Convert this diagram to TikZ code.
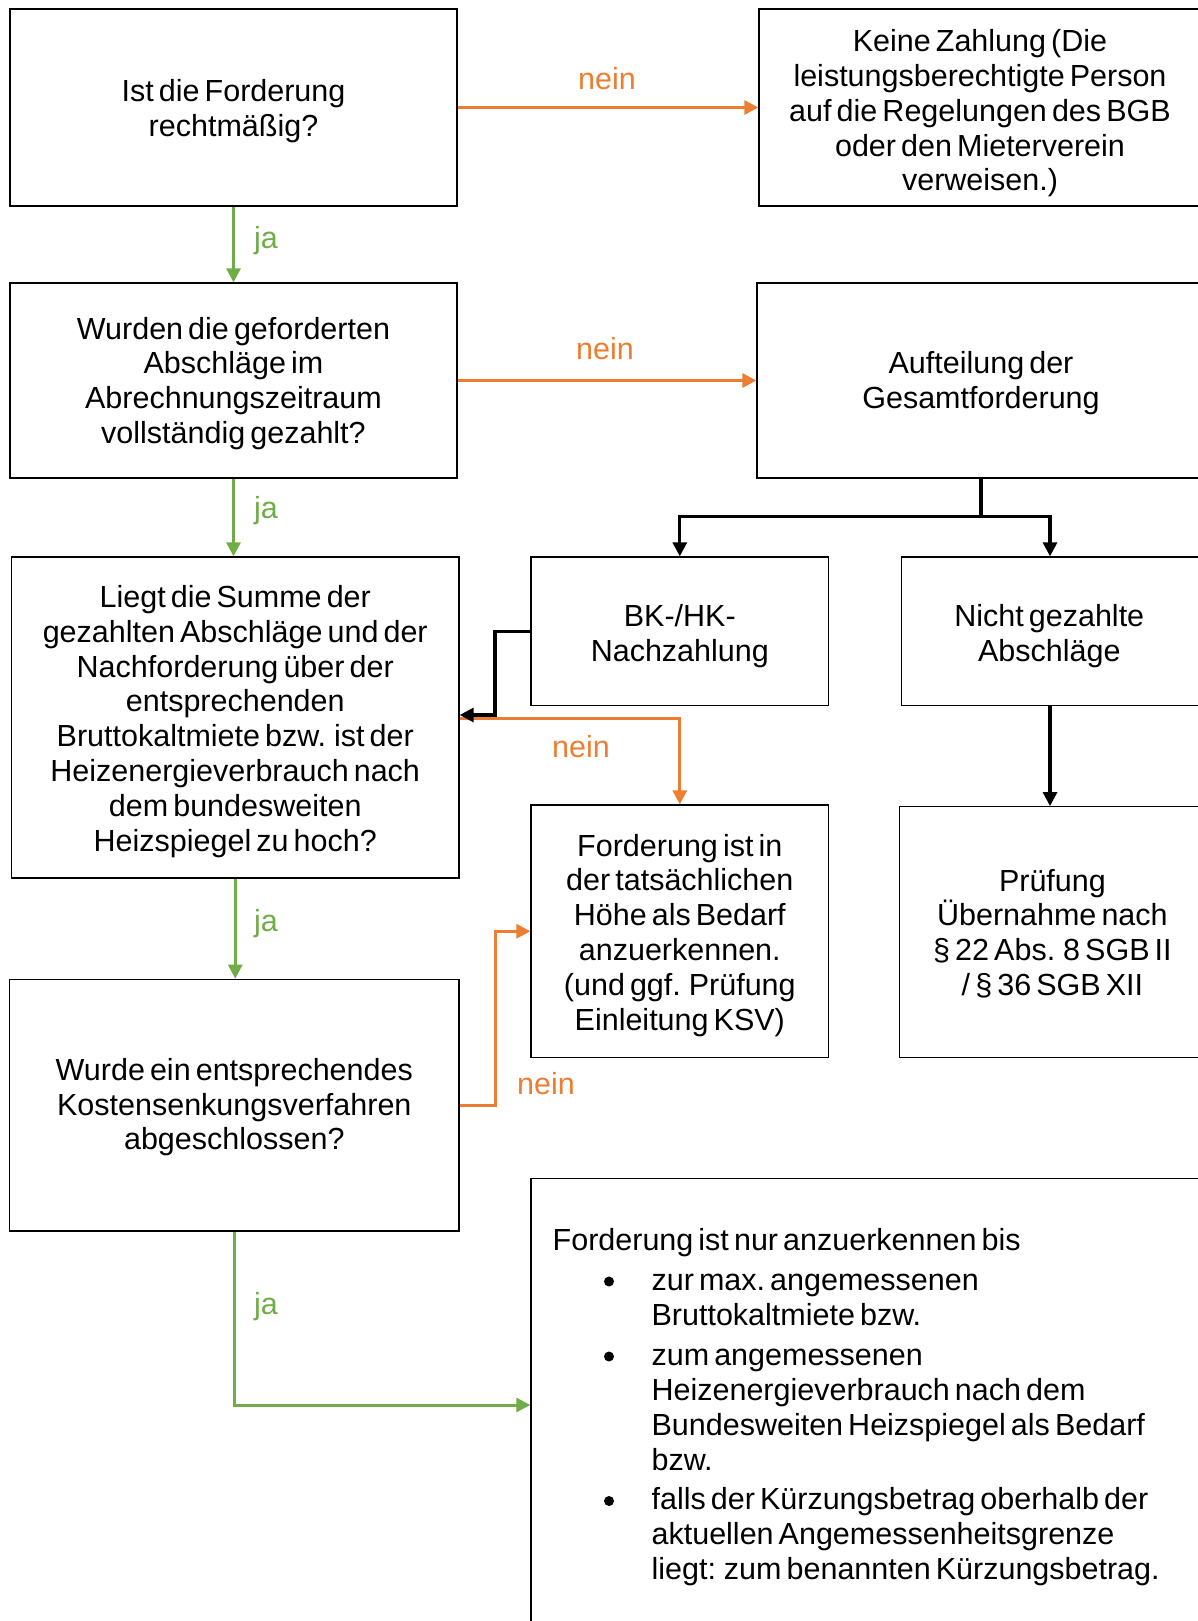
\documentclass[tikz,border=0pt]{standalone}
\usepackage{fontspec}
\setmainfont{Liberation Sans}[WordSpace=0.6]
\usetikzlibrary{arrows.meta}
\definecolor{orng}{HTML}{ED7D31}
\definecolor{grn}{HTML}{70AD47}
\tikzset{
  box/.style={draw=black, line width=1.3pt, fill=white, inner sep=0pt},
  btxt/.style={inner sep=0pt, align=center, font=\fontsize{30.5}{34.8}\selectfont},
  txt/.style={inner sep=0pt, font=\fontsize{30.5}{35}\selectfont},
  dot/.style={circle, fill=black, inner sep=0pt, minimum size=10pt},
  olab/.style={inner sep=0pt, text=orng, font=\fontsize{30.5}{35}\selectfont},
  glab/.style={inner sep=0pt, text=grn, font=\fontsize{30.5}{35}\selectfont},
  oarr/.style={draw=orng, line width=3pt, -{Triangle[length=14pt,width=14pt]}},
  garr/.style={draw=grn, line width=3pt, -{Triangle[length=14pt,width=14pt]}},
  barr/.style={draw=black, line width=3.2pt, -{Triangle[length=14pt,width=14pt]}},
  bline/.style={draw=black, line width=3.2pt},
}
\begin{document}
\begin{tikzpicture}[x=1pt,y=-1pt]
\useasboundingbox (0,0) rectangle (1198,1621);
\begin{scope}
\clip (0,0) rectangle (1198,1621);
% boxes
\node[box, minimum width=447pt, minimum height=197pt] (b1) at (233.5,107.5) {};
\node[box, minimum width=446pt, minimum height=197pt] (keine) at (982,107.5) {};
\node[box, minimum width=447pt, minimum height=195pt] (b2) at (233.5,380.5) {};
\node[box, minimum width=448pt, minimum height=195pt] (auf) at (981,380.5) {};
\node[box, minimum width=447.5pt, minimum height=321pt] (b3) at (235.25,717.5) {};
\node[box, minimum width=297.6pt, minimum height=148.7pt] (bk) at (679.8,631.35) {};
\node[box, minimum width=303.4pt, minimum height=148.7pt] (nicht) at (1053.3,631.35) {};
\node[box, minimum width=297.6pt, minimum height=252.5pt] (ford) at (679.8,931.25) {};
\node[box, minimum width=305.2pt, minimum height=250.8pt] (pruef) at (1052.4,932.1) {};
\node[box, minimum width=449.4pt, minimum height=251.7pt] (b4) at (234.3,1105.15) {};
\node[box, minimum width=679pt, minimum height=461.7pt] (bot) at (870.5,1409.15) {};
% box texts
\node[btxt, yshift=-4pt] (b1t) at (b1.center) {Ist die Forderung\\rechtmäßig?};
\node[btxt, yshift=-6pt, xshift=-2pt] (keinet) at (keine.center) {Keine Zahlung (Die\\leistungsberechtigte Person\\auf die Regelungen des BGB\\oder den Mieterverein\\verweisen.)};
\node[btxt, yshift=-3pt] (b2t) at (b2.center) {Wurden die geforderten\\Abschläge im\\Abrechnungszeitraum\\vollständig gezahlt?};
\node[btxt, yshift=-3pt] (auft) at (auf.center) {Aufteilung der\\Gesamtforderung};
\node[btxt, yshift=-4pt] (b3t) at (b3.center) {Liegt die Summe der\\gezahlten Abschläge und der\\Nachforderung über der\\entsprechenden\\Bruttokaltmiete bzw. ist der\\Heizenergieverbrauch nach\\dem bundesweiten\\Heizspiegel zu hoch?};
\node[btxt, yshift=-4.5pt] (bkt) at (bk.center) {BK-/HK-\\Nachzahlung};
\node[btxt, yshift=-4.5pt, xshift=-4pt] (nichtt) at (nicht.center) {Nicht gezahlte\\Abschläge};
\node[btxt, yshift=-4pt] (fordt) at (ford.center) {Forderung ist in\\der tatsächlichen\\Höhe als Bedarf\\anzuerkennen.\\(und ggf. Prüfung\\Einleitung KSV)};
\node[btxt, yshift=-1.5pt] (prueft) at (pruef.center) {Prüfung\\Übernahme nach\\§ 22 Abs. 8 SGB II\\/ § 36 SGB XII};
\node[btxt, yshift=-2pt] (b4t) at (b4.center) {Wurde ein entsprechendes\\Kostensenkungsverfahren\\abgeschlossen?};
% bottom box text
\node[txt, anchor=base west] (hd) at (552.5,1250) {Forderung ist nur anzuerkennen bis};
\node[dot] (d1) at (609,1281.5) {};
\node[dot] (d2) at (609,1356.5) {};
\node[dot] (d3) at (609,1501) {};
\node[txt, anchor=north west, align=left] (i1) at (651.4,1265.5) {\strut zur max.\ angemessenen\\Bruttokaltmiete bzw.};
\node[txt, anchor=north west, align=left] (i2) at (651.4,1340.5) {\strut zum angemessenen\\Heizenergieverbrauch nach dem\\Bundesweiten Heizspiegel als Bedarf\\bzw.};
\node[txt, anchor=north west, align=left] (i3) at (651.4,1484.5) {\strut falls der Kürzungsbetrag oberhalb der\\aktuellen Angemessenheitsgrenze\\liegt: zum benannten Kürzungsbetrag.};
% helper coordinates
\coordinate (sp) at (981,516.7);
\coordinate (xn) at (1050,0);
\coordinate (j1) at (495,715);
\coordinate (yo) at (0,718);
\coordinate (j2) at (495,0);
\coordinate (yb) at (0,1405);
% connectors
\draw[oarr] (b1.east) -- (keine.west);
\draw[garr] (b1.south) -- (b2.north);
\draw[oarr] (b2.east) -- (auf.west);
\draw[garr] (b2.south) -- (b2.south |- b3.north);
\draw[bline] (auf.south) -- (sp);
\draw[barr] (sp) -| (bk.north);
\draw[barr] (sp) -| (xn |- nicht.north);
\draw[oarr] (b3.east |- yo) -| (ford.north);
\draw[barr] (bk.west) -| (j1) -- (j1 -| b3.east);
\draw[barr] (xn |- nicht.south) -- (xn |- pruef.north);
\draw[garr] (b3.south) -- (b3.south |- b4.north);
\draw[oarr] (b4.east) -- (b4.east -| j2) |- (ford.west);
\draw[garr] (b4.south) |- (bot.west |- yb);
% labels
\node[olab] (n1) at (607,79) {nein};
\node[olab] (n2) at (605,349) {nein};
\node[olab] (n3) at (581,747) {nein};
\node[olab] (n4) at (546,1084) {nein};
\node[glab] (y1) at (266,241) {ja};
\node[glab] (y2) at (266,511) {ja};
\node[glab] (y3) at (266,924) {ja};
\node[glab] (y4) at (266,1307) {ja};
\end{scope}
\end{tikzpicture}
\end{document}
